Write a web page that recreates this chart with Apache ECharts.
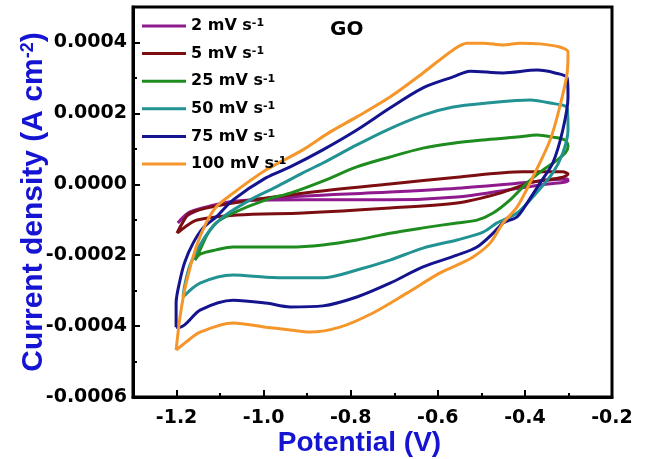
<!DOCTYPE html>
<html>
<head>
<meta charset="utf-8">
<script src="https://cdn.jsdelivr.net/npm/echarts@6/dist/echarts.min.js"></script>
<style>html,body{margin:0;padding:0;background:#fff}#c{width:646px;height:459px}</style>
</head>
<body>
<div id="c"></div>
<script>
// Potentials in V, currents in units of 1e-4 A cm^-2
const seriesNames = ['2 mV s-1', '5 mV s-1', '25 mV s-1', '50 mV s-1', '75 mV s-1', '100 mV s-1'];
const colors = ['#8E1A8E', '#7C0E12', '#1E8C1E', '#239292', '#14148F', '#F5962A'];

const v2 = [-1.197,-1.169,-1.100,-0.985,-0.710,-0.556,-0.404,-0.303,-0.301,-0.365,-0.441,-0.556,-0.710,-0.910,-1.061,-1.139,-1.181,-1.197];
const i2 = [-1.09,-0.78,-0.56,-0.39,-0.22,-0.11,0.04,0.15,0.09,-0.02,-0.16,-0.36,-0.44,-0.44,-0.47,-0.67,-0.92,-1.09];

const v5 = [-1.199,-1.185,-1.169,-1.100,-1.024,-0.910,-0.710,-0.556,-0.404,-0.313,-0.301,-0.313,-0.388,-0.457,-0.556,-0.710,-0.910,-1.061,-1.153,-1.181,-1.199];
const i5 = [-1.38,-1.06,-0.81,-0.59,-0.44,-0.25,0.01,0.20,0.35,0.35,0.29,0.20,0.04,-0.25,-0.53,-0.67,-0.81,-0.87,-1.01,-1.21,-1.38];

const v25 = [-1.158,-1.146,-1.130,-1.109,-1.070,-0.995,-0.939,-0.864,-0.786,-0.710,-0.634,-0.565,-0.496,-0.418,-0.372,-0.336,-0.308,-0.301,-0.306,-0.326,-0.359,-0.395,-0.434,-0.473,-0.510,-0.556,-0.634,-0.710,-0.786,-0.864,-0.939,-0.995,-1.070,-1.109,-1.146,-1.158];
const i25 = [-2.14,-1.85,-1.43,-1.09,-0.81,-0.44,-0.25,0.09,0.49,0.77,1.02,1.16,1.25,1.33,1.39,1.33,1.25,1.08,0.91,0.68,0.40,0.04,-0.44,-0.81,-1.01,-1.09,-1.23,-1.38,-1.57,-1.71,-1.77,-1.77,-1.77,-1.85,-1.97,-2.14];

const v50 = [-1.185,-1.181,-1.169,-1.146,-1.123,-1.093,-1.031,-0.972,-0.910,-0.864,-0.786,-0.717,-0.634,-0.565,-0.487,-0.388,-0.342,-0.303,-0.301,-0.313,-0.336,-0.382,-0.418,-0.464,-0.496,-0.556,-0.634,-0.710,-0.786,-0.864,-0.939,-0.995,-1.070,-1.146,-1.185];
const i50 = [-3.18,-2.84,-2.28,-1.71,-1.29,-0.92,-0.44,-0.08,0.32,0.60,1.11,1.53,1.95,2.18,2.29,2.38,2.29,2.15,1.53,0.88,0.32,-0.36,-0.81,-1.09,-1.35,-1.57,-1.80,-2.14,-2.42,-2.64,-2.64,-2.62,-2.56,-2.79,-3.18];

const v75 = [-1.201,-1.201,-1.192,-1.181,-1.162,-1.139,-1.109,-1.070,-0.995,-0.939,-0.864,-0.786,-0.710,-0.634,-0.565,-0.526,-0.450,-0.372,-0.331,-0.303,-0.301,-0.313,-0.336,-0.365,-0.395,-0.418,-0.450,-0.473,-0.510,-0.556,-0.634,-0.710,-0.786,-0.864,-0.939,-0.995,-1.070,-1.146,-1.192,-1.201];
const i75 = [-4.03,-3.35,-2.70,-2.19,-1.66,-1.23,-0.92,-0.44,0.18,0.49,0.97,1.53,2.15,2.72,3.03,3.19,3.14,3.22,3.14,3.00,2.46,1.53,0.60,0.04,-0.53,-0.92,-1.09,-1.38,-1.77,-2.00,-2.33,-2.79,-3.18,-3.43,-3.46,-3.35,-3.27,-3.55,-4.03,-4.03];

const v100 = [-1.201,-1.192,-1.178,-1.155,-1.132,-1.109,-1.070,-0.995,-0.910,-0.848,-0.786,-0.710,-0.634,-0.565,-0.533,-0.496,-0.450,-0.411,-0.365,-0.320,-0.301,-0.303,-0.320,-0.342,-0.382,-0.418,-0.450,-0.480,-0.519,-0.556,-0.595,-0.671,-0.749,-0.825,-0.894,-0.939,-0.995,-1.070,-1.146,-1.178,-1.201];
const i100 = [-4.68,-3.74,-2.79,-1.77,-1.09,-0.64,-0.25,0.40,0.97,1.47,1.90,2.46,3.14,3.79,3.98,3.98,3.93,3.98,3.96,3.87,3.73,3.14,2.18,1.25,0.20,-0.64,-1.09,-1.66,-2.05,-2.28,-2.50,-3.07,-3.63,-4.03,-4.17,-4.11,-4.03,-3.91,-4.17,-4.45,-4.68];

const xMajor = [-1.2, -1.0, -0.8, -0.6, -0.4, -0.2];
const xMinor = [-1.1, -0.9, -0.7, -0.5, -0.3];
const yMajor = [-0.0006, -0.0004, -0.0002, 0, 0.0002, 0.0004];
const yMinor = [-0.0005, -0.0003, -0.0001, 0.0001, 0.0003, 0.0005];

const allV = [v2, v5, v25, v50, v75, v100];
const allI = [i2, i5, i25, i50, i75, i100];

const tickFont = { fontFamily: 'DejaVu Sans', fontWeight: 'bold', fontSize: 19, color: '#000' };
const titleStyle = { fontFamily: 'Liberation Sans', fontWeight: 'bold', fontSize: 28, color: '#1414D2' };

const series = seriesNames.map((n, k) => ({
  name: n,
  type: 'line',
  xAxisIndex: 0,
  yAxisIndex: 0,
  showSymbol: false,
  symbol: 'none',
  smooth: 0.3,
  lineStyle: { width: 3, color: colors[k] },
  itemStyle: { color: colors[k] },
  data: allV[k].map((v, j) => [v, allI[k][j] * 1e-4])
}));

const chart = echarts.init(document.getElementById('c'), null, { renderer: 'canvas' });
chart.setOption({
  animation: false,
  backgroundColor: '#fff',
  title: {
    text: 'GO', left: 330, top: 20, padding: 0,
    textStyle: { fontFamily: 'DejaVu Sans', fontWeight: 'bold', fontSize: 20, color: '#000' }
  },
  legend: {
    orient: 'vertical', left: 142, top: 18, padding: 0,
    itemWidth: 44, itemHeight: 12, itemGap: 11.6,
    data: seriesNames.map((n, k) => ({ name: n, icon: 'path://M0,0 L44,0 L44,3 L0,3 Z', itemStyle: { color: colors[k] } })),
    formatter: n => n.replace('s-1', 's{sup|-1}'),
    textStyle: {
      fontFamily: 'DejaVu Sans', fontWeight: 'bold', fontSize: 16, color: '#000',
      rich: { sup: { fontFamily: 'DejaVu Sans', fontWeight: 'bold', fontSize: 11, verticalAlign: 'top', color: '#000' } }
    }
  },
  grid: { left: 133, top: 7, right: 34, bottom: 62, show: true, borderColor: '#000', borderWidth: 3, backgroundColor: 'transparent', outerBoundsMode: 'none', containLabel: false },
  xAxis: [{
    type: 'value', min: -1.3, max: -0.2, position: 'bottom',
    name: 'Potential (V)', nameLocation: 'middle', nameGap: 32, nameMoveOverlap: false,
    nameTextStyle: Object.assign({}, titleStyle, { padding: [0, 26, 0, 0] }),
    axisLine: { show: true, onZero: false, lineStyle: { color: '#000', width: 3 } },
    axisTick: { show: true, inside: true, length: 7, lineStyle: { color: '#000', width: 2 }, customValues: xMajor },
    axisLabel: Object.assign({ margin: 12, customValues: xMajor, formatter: v => v.toFixed(1) }, tickFont),
    splitLine: { show: false }
  }, {
    type: 'value', min: -1.3, max: -0.2, position: 'bottom',
    axisLine: { show: false, onZero: false },
    axisTick: { show: true, inside: true, length: 4, lineStyle: { color: '#000', width: 2 }, customValues: xMinor },
    axisLabel: { show: false },
    splitLine: { show: false }
  }],
  yAxis: [{
    type: 'value', min: -0.0006, max: 0.0005, position: 'left',
    name: 'Current density (A cm{sup|-2})', nameLocation: 'middle', nameGap: 84, nameMoveOverlap: false,
    nameTextStyle: Object.assign({}, titleStyle, {
      fontSize: 30,
      rich: { sup: { fontFamily: 'Liberation Sans', fontWeight: 'bold', fontSize: 18, color: '#1414D2', verticalAlign: 'top' } }
    }),
    axisLine: { show: true, onZero: false, lineStyle: { color: '#000', width: 3 } },
    axisTick: { show: true, inside: true, length: 7, lineStyle: { color: '#000', width: 2 }, customValues: yMajor },
    axisLabel: Object.assign({ margin: 6, customValues: yMajor, formatter: v => v.toFixed(4) }, tickFont),
    splitLine: { show: false }
  }, {
    type: 'value', min: -0.0006, max: 0.0005, position: 'left',
    axisLine: { show: false, onZero: false },
    axisTick: { show: true, inside: true, length: 4, lineStyle: { color: '#000', width: 2 }, customValues: yMinor },
    axisLabel: { show: false },
    splitLine: { show: false }
  }],
  series: series
});
</script>
</body>
</html>
